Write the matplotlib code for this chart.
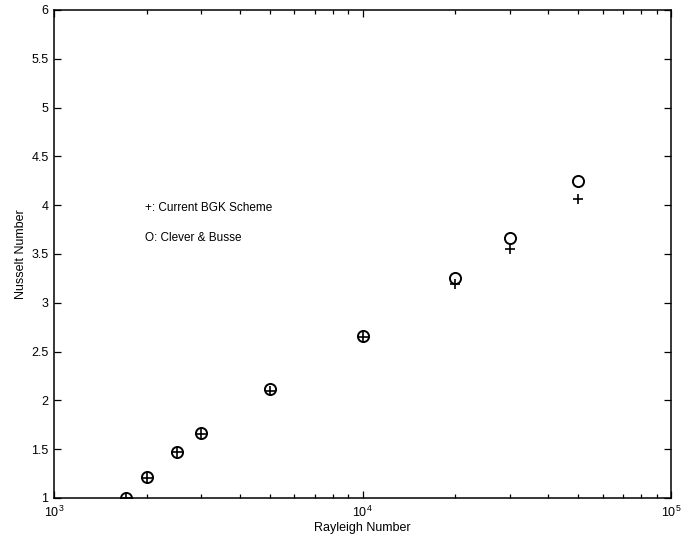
import matplotlib
matplotlib.use("Agg")
import matplotlib.pyplot as plt
from matplotlib.ticker import FixedLocator, LogLocator, NullFormatter

plt.rcParams['font.family'] = ['Liberation Sans', 'DejaVu Sans']

rayleigh = [1708, 2000, 2500, 3000, 5000, 10000, 20000, 30000, 50000]
nu_bgk = [1.0, 1.21, 1.47, 1.66, 2.10, 2.65, 3.19, 3.55, 4.06]
nu_clever_busse = [1.0, 1.212, 1.475, 1.663, 2.116, 2.661, 3.258, 3.662, 4.245]
yticks = [1, 1.5, 2, 2.5, 3, 3.5, 4, 4.5, 5, 5.5, 6]
ytick_labels = ['1', '1.5', '2', '2.5', '3', '3.5', '4', '4.5', '5', '5.5', '6']

fig = plt.figure(figsize=(6.82, 5.44), dpi=100)
ax = fig.add_axes([54/682, 1-498/544, (671-54)/682, (498-10)/544])

ax.plot(rayleigh, nu_bgk, linestyle='none', marker='+', markersize=7,
        markeredgewidth=1.2, color='black')
ax.plot(rayleigh, nu_clever_busse, linestyle='none', marker='o', markersize=8,
        markerfacecolor='none', markeredgewidth=1.4, markeredgecolor='black')

ax.set_xscale('log')
ax.set_xlim(1e3, 1e5)
ax.set_ylim(1, 6)
ax.yaxis.set_major_locator(FixedLocator(yticks))
ax.set_yticklabels(ytick_labels)
ax.xaxis.set_minor_locator(LogLocator(base=10, subs=range(2, 10)))
ax.xaxis.set_minor_formatter(NullFormatter())

ax.tick_params(which='both', direction='in', top=True, right=True,
               labelsize=9, width=0.9)
ax.tick_params(axis='x', which='major', pad=5)
ax.tick_params(axis='y', which='major', pad=4)
ax.tick_params(which='major', length=5)
ax.tick_params(which='minor', length=3)
for s in ax.spines.values():
    s.set_linewidth(1.1)

ax.set_xlabel('Rayleigh Number', fontsize=9, labelpad=1)
ax.set_ylabel('Nusselt Number', fontsize=9, labelpad=3)

ax.text(0.148, 0.595, '+: Current BGK Scheme', transform=ax.transAxes,
        fontsize=8.5, va='center', ha='left')
ax.text(0.148, 0.533, 'O: Clever & Busse', transform=ax.transAxes,
        fontsize=8.5, va='center', ha='left')

fig.savefig('out.png', dpi=100)
